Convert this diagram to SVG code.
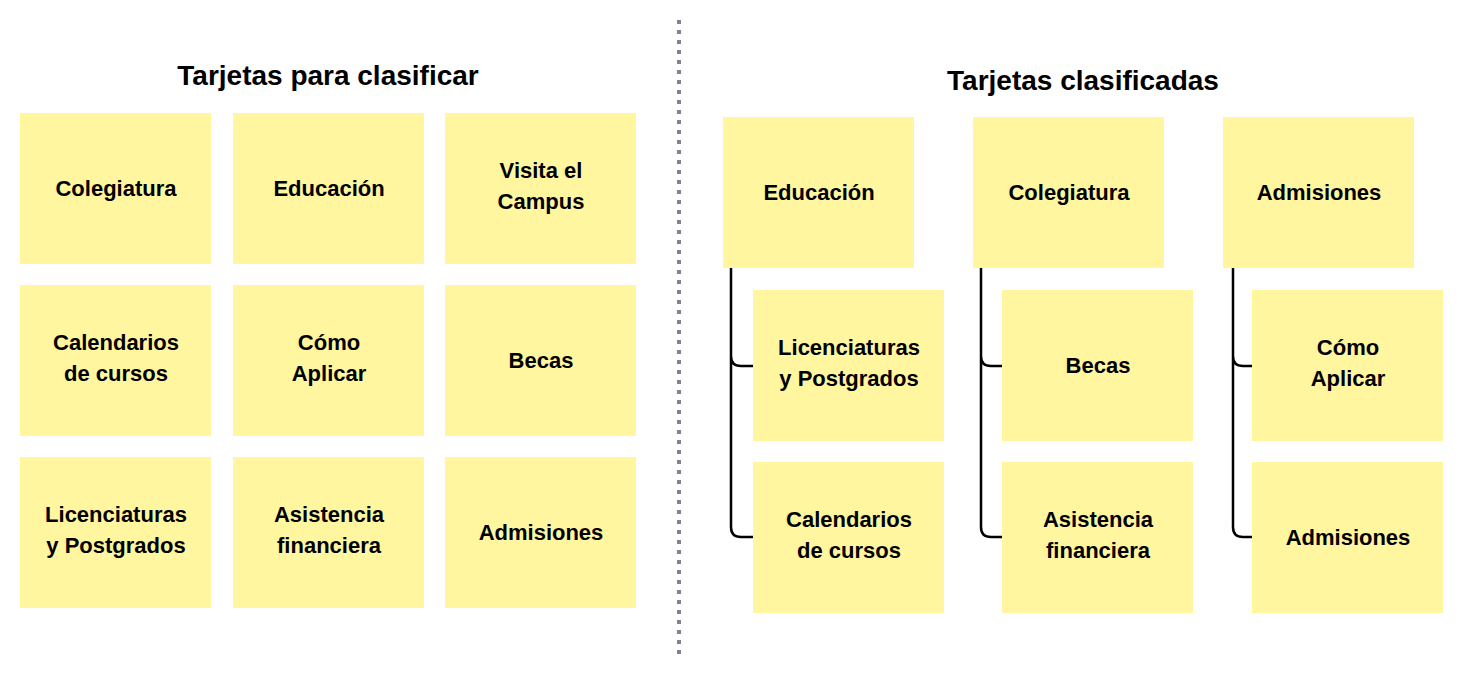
<svg xmlns="http://www.w3.org/2000/svg" width="1464" height="679" viewBox="0 0 1464 679">
<style>
.c{fill:#fff69f}
text{font-family:"Liberation Sans",Arial,sans-serif;font-weight:bold;fill:#000;text-anchor:middle}
.t{font-size:22px}
.h{font-size:28px}
.k{fill:none;stroke:#000;stroke-width:2.5}
</style>
<rect width="1464" height="679" fill="#fff"/>
<line x1="679" y1="20" x2="679" y2="658" stroke="#7f8290" stroke-width="4" stroke-dasharray="4 6"/>
<text class="h" x="328" y="85">Tarjetas para clasificar</text>
<text class="h" x="1083" y="90">Tarjetas clasificadas</text>
<g id="connectors">
<path class="k" d="M731 268V356Q731 366 741 366H753M731 356V527Q731 537 741 537H753"/>
<path class="k" d="M981 268V356Q981 366 991 366H1002M981 356V527Q981 537 991 537H1002"/>
<path class="k" d="M1233 268V356Q1233 366 1243 366H1252M1233 356V527Q1233 537 1243 537H1252"/>
</g>
<g id="l1"><rect class="c" x="20" y="113" width="191" height="151"/><text class="t" x="116" y="196">Colegiatura</text></g>
<g id="l2"><rect class="c" x="233" y="113" width="191" height="151"/><text class="t" x="329" y="196">Educación</text></g>
<g id="l3"><rect class="c" x="445" y="113" width="191" height="151"/><text class="t" x="541" y="178">Visita el</text><text class="t" x="541" y="209">Campus</text></g>
<g id="l4"><rect class="c" x="20" y="285" width="191" height="151"/><text class="t" x="116" y="350">Calendarios</text><text class="t" x="116" y="381">de cursos</text></g>
<g id="l5"><rect class="c" x="233" y="285" width="191" height="151"/><text class="t" x="329" y="350">Cómo</text><text class="t" x="329" y="381">Aplicar</text></g>
<g id="l6"><rect class="c" x="445" y="285" width="191" height="151"/><text class="t" x="541" y="368">Becas</text></g>
<g id="l7"><rect class="c" x="20" y="457" width="191" height="151"/><text class="t" x="116" y="522">Licenciaturas</text><text class="t" x="116" y="553">y Postgrados</text></g>
<g id="l8"><rect class="c" x="233" y="457" width="191" height="151"/><text class="t" x="329" y="522">Asistencia</text><text class="t" x="329" y="553">financiera</text></g>
<g id="l9"><rect class="c" x="445" y="457" width="191" height="151"/><text class="t" x="541" y="540">Admisiones</text></g>
<g id="p1"><rect class="c" x="723" y="117" width="191" height="151"/><text class="t" x="819" y="200">Educación</text></g>
<g id="p2"><rect class="c" x="973" y="117" width="191" height="151"/><text class="t" x="1069" y="200">Colegiatura</text></g>
<g id="p3"><rect class="c" x="1223" y="117" width="191" height="151"/><text class="t" x="1319" y="200">Admisiones</text></g>
<g id="c1"><rect class="c" x="753" y="290" width="191" height="151"/><text class="t" x="849" y="355">Licenciaturas</text><text class="t" x="849" y="386">y Postgrados</text></g>
<g id="c2"><rect class="c" x="753" y="462" width="191" height="151"/><text class="t" x="849" y="527">Calendarios</text><text class="t" x="849" y="558">de cursos</text></g>
<g id="c3"><rect class="c" x="1002" y="290" width="191" height="151"/><text class="t" x="1098" y="373">Becas</text></g>
<g id="c4"><rect class="c" x="1002" y="462" width="191" height="151"/><text class="t" x="1098" y="527">Asistencia</text><text class="t" x="1098" y="558">financiera</text></g>
<g id="c5"><rect class="c" x="1252" y="290" width="191" height="151"/><text class="t" x="1348" y="355">Cómo</text><text class="t" x="1348" y="386">Aplicar</text></g>
<g id="c6"><rect class="c" x="1252" y="462" width="191" height="151"/><text class="t" x="1348" y="545">Admisiones</text></g>
</svg>
